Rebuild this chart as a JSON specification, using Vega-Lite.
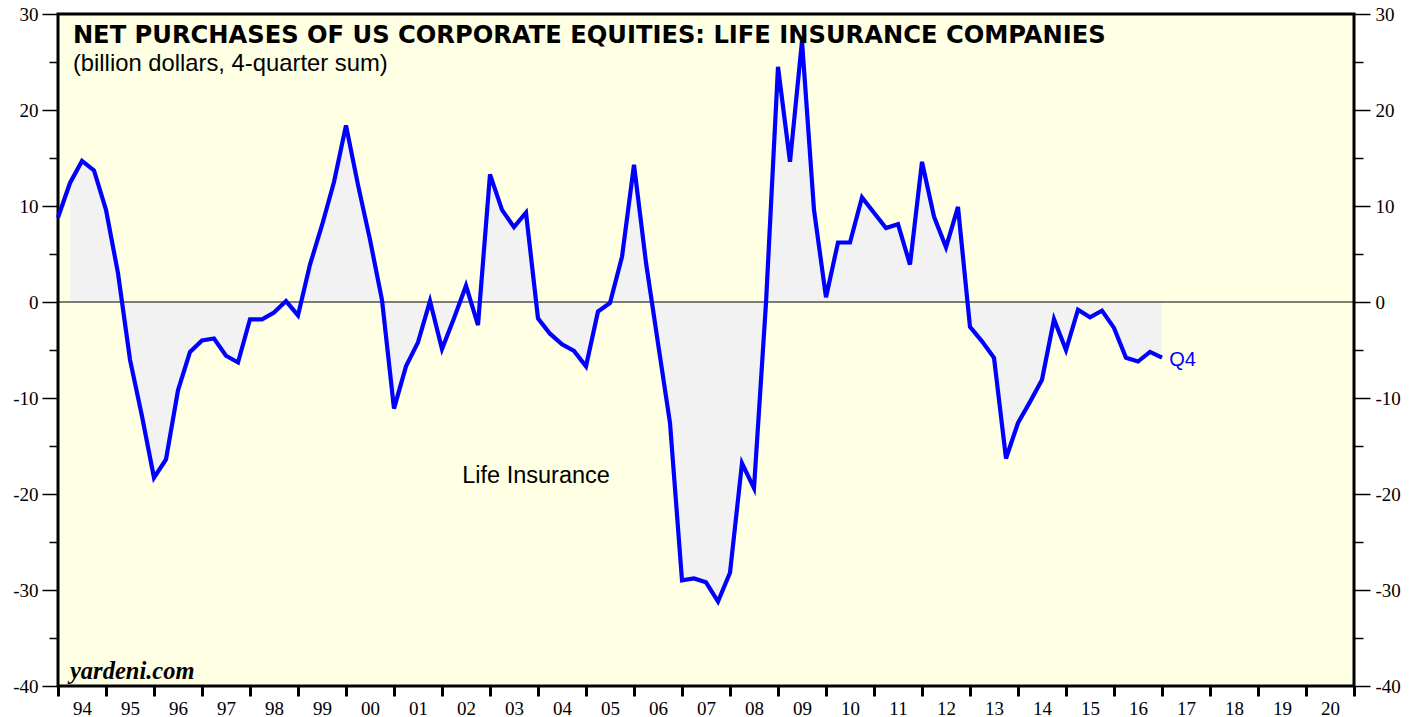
{
  "$schema": "https://vega.github.io/schema/vega-lite/v6.json",
  "autosize": {"type": "none"},
  "width": 1296,
  "height": 672,
  "padding": {"left": 58, "top": 14, "right": 65, "bottom": 31},
  "background": "white",
  "config": {
    "view": {"stroke": "black", "strokeWidth": 3, "fill": "#ffffe3"},
    "axis": {"domain": false, "grid": false, "title": null, "labelFont": "Liberation Serif", "labelFontSize": 19, "labelColor": "black", "tickColor": "black"}
  },
  "datasets": {
    "series": [
      {"t":1994.00,"v":8.8},{"t":1994.25,"v":12.4},{"t":1994.50,"v":14.7},{"t":1994.75,"v":13.7},
      {"t":1995.00,"v":9.6},{"t":1995.25,"v":3.0},{"t":1995.50,"v":-6.0},{"t":1995.75,"v":-11.9},
      {"t":1996.00,"v":-18.3},{"t":1996.25,"v":-16.4},{"t":1996.50,"v":-9.2},{"t":1996.75,"v":-5.2},
      {"t":1997.00,"v":-4.0},{"t":1997.25,"v":-3.8},{"t":1997.50,"v":-5.6},{"t":1997.75,"v":-6.3},
      {"t":1998.00,"v":-1.8},{"t":1998.25,"v":-1.8},{"t":1998.50,"v":-1.1},{"t":1998.75,"v":0.1},
      {"t":1999.00,"v":-1.4},{"t":1999.25,"v":3.9},{"t":1999.50,"v":8.0},{"t":1999.75,"v":12.5},
      {"t":2000.00,"v":18.4},{"t":2000.25,"v":12.2},{"t":2000.50,"v":6.5},{"t":2000.75,"v":0.2},
      {"t":2001.00,"v":-11.1},{"t":2001.25,"v":-6.7},{"t":2001.50,"v":-4.2},{"t":2001.75,"v":0.1},
      {"t":2002.00,"v":-4.9},{"t":2002.25,"v":-1.7},{"t":2002.50,"v":1.7},{"t":2002.75,"v":-2.4},
      {"t":2003.00,"v":13.3},{"t":2003.25,"v":9.6},{"t":2003.50,"v":7.8},{"t":2003.75,"v":9.3},
      {"t":2004.00,"v":-1.7},{"t":2004.25,"v":-3.3},{"t":2004.50,"v":-4.4},{"t":2004.75,"v":-5.1},
      {"t":2005.00,"v":-6.7},{"t":2005.25,"v":-1.0},{"t":2005.50,"v":-0.1},{"t":2005.75,"v":4.7},
      {"t":2006.00,"v":14.3},{"t":2006.25,"v":4.1},{"t":2006.50,"v":-4.3},{"t":2006.75,"v":-12.6},
      {"t":2007.00,"v":-29.0},{"t":2007.25,"v":-28.8},{"t":2007.50,"v":-29.2},{"t":2007.75,"v":-31.2},
      {"t":2008.00,"v":-28.2},{"t":2008.25,"v":-16.8},{"t":2008.50,"v":-19.4},{"t":2008.75,"v":-0.1},
      {"t":2009.00,"v":24.5},{"t":2009.25,"v":14.6},{"t":2009.50,"v":27.2},{"t":2009.75,"v":9.6},
      {"t":2010.00,"v":0.5},{"t":2010.25,"v":6.2},{"t":2010.50,"v":6.2},{"t":2010.75,"v":10.9},
      {"t":2011.00,"v":9.3},{"t":2011.25,"v":7.7},{"t":2011.50,"v":8.1},{"t":2011.75,"v":3.9},
      {"t":2012.00,"v":14.6},{"t":2012.25,"v":8.9},{"t":2012.50,"v":5.7},{"t":2012.75,"v":9.9},
      {"t":2013.00,"v":-2.6},{"t":2013.25,"v":-4.1},{"t":2013.50,"v":-5.8},{"t":2013.75,"v":-16.3},
      {"t":2014.00,"v":-12.6},{"t":2014.25,"v":-10.4},{"t":2014.50,"v":-8.1},{"t":2014.75,"v":-1.8},
      {"t":2015.00,"v":-5.0},{"t":2015.25,"v":-0.8},{"t":2015.50,"v":-1.6},{"t":2015.75,"v":-0.9},
      {"t":2016.00,"v":-2.7},{"t":2016.25,"v":-5.8},{"t":2016.50,"v":-6.2},{"t":2016.75,"v":-5.2},
      {"t":2017.00,"v":-5.8}
    ],
    "one": [{"k": 1}]
  },
  "data": {"name": "series"},
  "resolve": {"axis": {"x": "independent", "y": "independent"}},
  "layer": [
    {
      "transform": [{"filter": "datum.t >= 1994.25"}],
      "mark": {"type": "area", "color": "#f2f2f2", "opacity": 1},
      "encoding": {
        "x": {"field": "t", "type": "quantitative",
              "scale": {"domain": [1994, 2021], "nice": false, "zero": false},
              "axis": {"orient": "bottom", "values": [1994,1995,1996,1997,1998,1999,2000,2001,2002,2003,2004,2005,2006,2007,2008,2009,2010,2011,2012,2013,2014,2015,2016,2017,2018,2019,2020,2021],
                       "labelExpr": "datum.value < 2021 ? substring(toString(datum.value), 2, 4) : ''",
                       "labelOffset": 24, "tickSize": 10, "tickWidth": 3, "labelPadding": 3, "labelFlush": false, "labelOverlap": false, "labelBound": false}},
        "y": {"field": "v", "type": "quantitative",
              "scale": {"domain": [-40, 30], "nice": false, "zero": false},
              "axis": {"orient": "left", "values": [-40,-30,-20,-10,0,10,20,30], "labelExpr": "toString(datum.value)", "tickSize": 16, "tickWidth": 1.5, "labelPadding": 4}},
        "y2": {"datum": 0}
      }
    },
    {
      "data": {"name": "one"},
      "mark": {"type": "rule", "color": "black", "strokeWidth": 1},
      "encoding": {
        "y": {"datum": 0, "type": "quantitative",
              "axis": {"orient": "left", "values": [-35,-25,-15,-5,5,15,25], "tickSize": 9, "tickWidth": 1.5, "labels": false}}
      }
    },
    {
      "mark": {"type": "line", "color": "#0000ff", "strokeWidth": 4.2, "strokeJoin": "miter"},
      "encoding": {
        "x": {"field": "t", "type": "quantitative", "axis": null},
        "y": {"field": "v", "type": "quantitative",
              "axis": {"orient": "right", "values": [-40,-30,-20,-10,0,10,20,30], "labelExpr": "toString(datum.value)", "tickSize": 16, "tickWidth": 1.5, "labelPadding": 5}}
      }
    },
    {
      "data": {"name": "one"},
      "mark": {"type": "text", "text": "Q4", "fill": "#0000ff", "font": "Liberation Sans", "fontSize": 20, "align": "left", "baseline": "alphabetic"},
      "encoding": {
        "x": {"datum": 2017.15, "type": "quantitative", "axis": null},
        "y": {"datum": -6.67, "type": "quantitative",
              "axis": {"orient": "right", "values": [-35,-25,-15,-5,5,15,25], "tickSize": 9, "tickWidth": 1.5, "labels": false}}
      }
    },
    {
      "data": {"name": "one"},
      "mark": {"type": "text", "text": "Life Insurance", "fill": "black", "font": "Liberation Sans", "fontSize": 23.5, "align": "center", "baseline": "alphabetic"},
      "encoding": {
        "x": {"datum": 2003.96, "type": "quantitative", "axis": null},
        "y": {"datum": -18.85, "type": "quantitative", "axis": null}
      }
    },
    {
      "data": {"name": "one"},
      "mark": {"type": "text", "text": "NET PURCHASES OF US CORPORATE EQUITIES: LIFE INSURANCE COMPANIES", "fill": "black", "font": "DejaVu Sans", "fontWeight": "bold", "fontSize": 24.2, "align": "left", "baseline": "alphabetic"},
      "encoding": {
        "x": {"datum": 1994.31, "type": "quantitative", "axis": null},
        "y": {"datum": 26.98, "type": "quantitative", "axis": null}
      }
    },
    {
      "data": {"name": "one"},
      "mark": {"type": "text", "text": "(billion dollars, 4-quarter sum)", "fill": "black", "font": "Liberation Sans", "fontSize": 23.8, "align": "left", "baseline": "alphabetic"},
      "encoding": {
        "x": {"datum": 1994.31, "type": "quantitative", "axis": null},
        "y": {"datum": 24.06, "type": "quantitative", "axis": null}
      }
    },
    {
      "data": {"name": "one"},
      "mark": {"type": "text", "text": "yardeni.com", "fill": "black", "font": "Liberation Serif", "fontWeight": "bold", "fontStyle": "italic", "fontSize": 24.5, "align": "left", "baseline": "alphabetic"},
      "encoding": {
        "x": {"datum": 1994.25, "type": "quantitative", "axis": null},
        "y": {"datum": -39.27, "type": "quantitative", "axis": null}
      }
    }
  ]
}
